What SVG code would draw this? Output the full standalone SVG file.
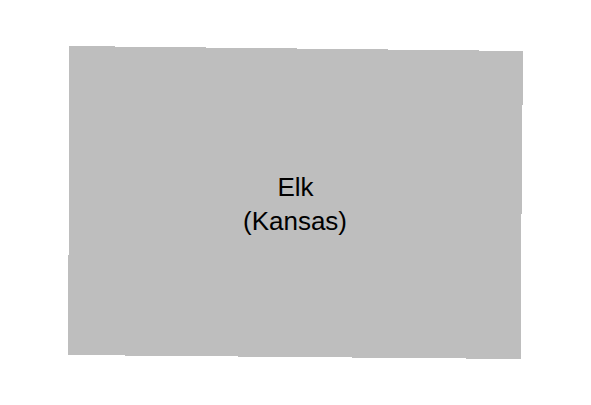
<svg xmlns="http://www.w3.org/2000/svg" width="591" height="405" viewBox="0 0 591 405">
<style>
.label{font-family:"Liberation Sans",Arial,sans-serif;font-size:26px;fill:#000;text-anchor:middle}
</style>
<rect width="591" height="405" fill="#fff"/>
<polygon points="69,46 523,51 522.500,106 521.500,215 521,359 68,355 68.500,267" fill="#bebebe" shape-rendering="crispEdges"/>
<text class="label" x="295.500" y="196">Elk</text>
<text class="label" x="295" y="230">(Kansas)</text>
</svg>
